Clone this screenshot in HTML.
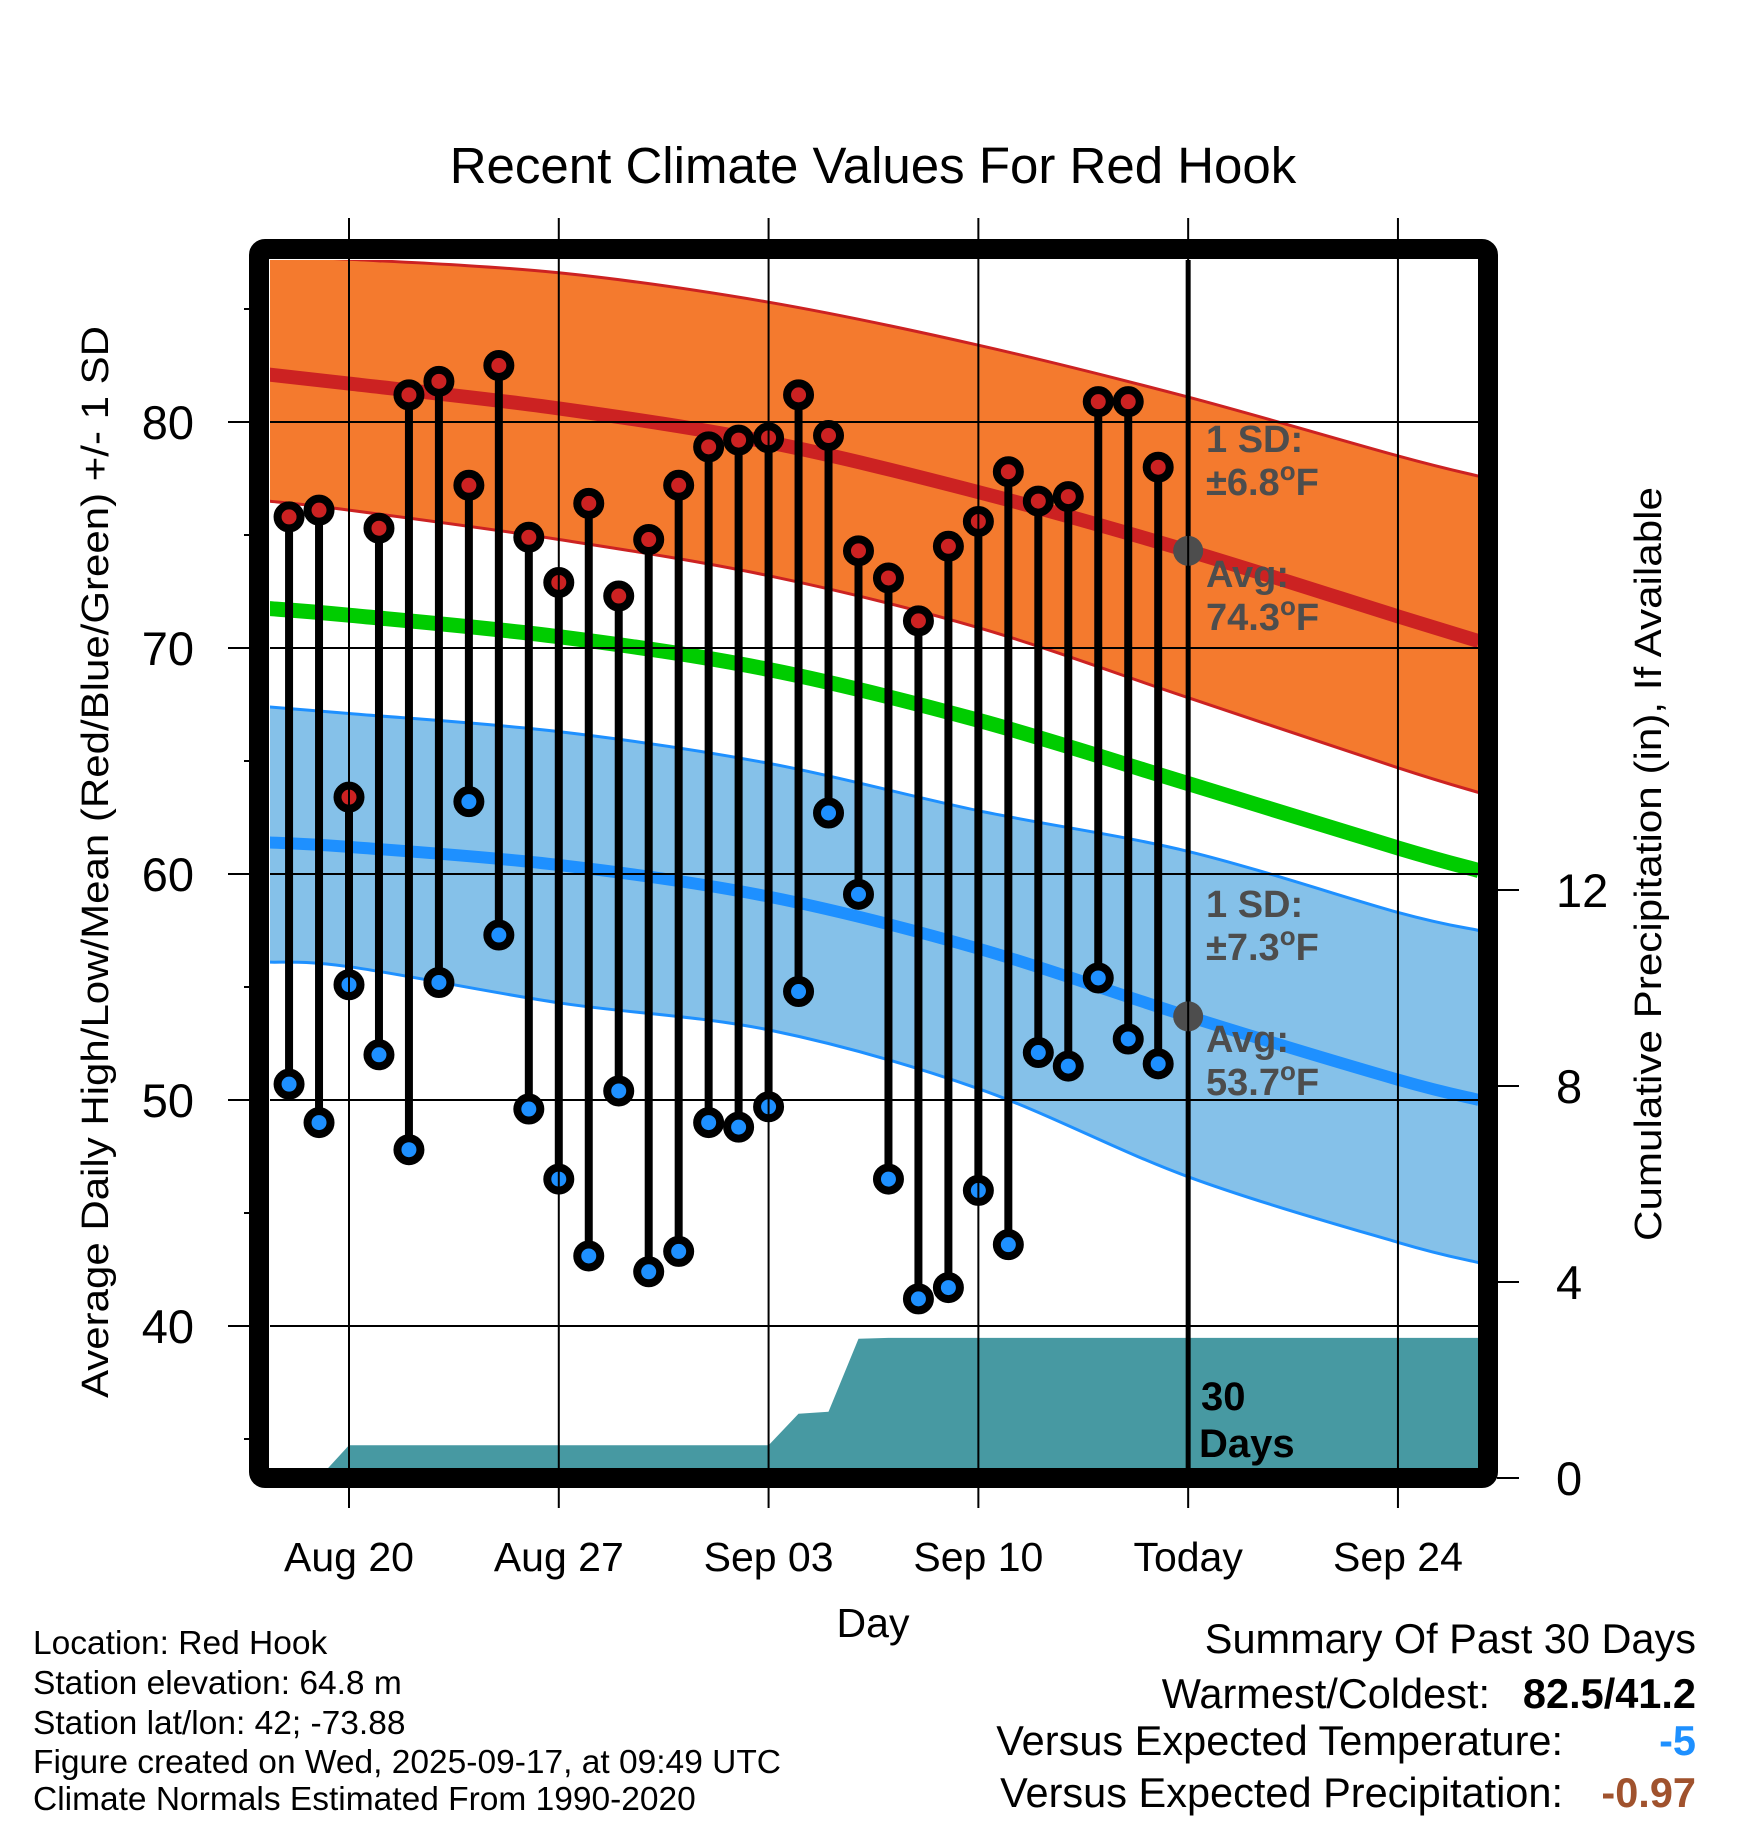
<!DOCTYPE html>
<html><head><meta charset="utf-8"><style>
html,body{margin:0;padding:0;background:#fff}
svg{display:block}
text{font-family:"Liberation Sans",Arial,sans-serif}
</style></head><body>
<svg id="chart" xmlns="http://www.w3.org/2000/svg" width="1748" height="1828" viewBox="0 0 1748 1828">
<defs><clipPath id="plotclip"><rect x="270" y="260" width="1208" height="1208"/></clipPath></defs>
<rect width="1748" height="1828" fill="#fff"/>
<text x="873" y="183" font-size="51" text-anchor="middle">Recent Climate Values For Red Hook</text>
<g id="plot" clip-path="url(#plotclip)"></g>
<g id="over"></g>
<rect x="259" y="249" width="1229" height="1229" fill="none" stroke="#000" stroke-width="20" rx="6"/>
<g id="axes"></g>
<text transform="translate(108,862) rotate(-90)" font-size="38" text-anchor="middle" textLength="1072" lengthAdjust="spacingAndGlyphs">Average Daily High/Low/Mean (Red/Blue/Green) +/- 1 SD</text>
<text transform="translate(1661,864) rotate(-90)" font-size="38" text-anchor="middle" textLength="754" lengthAdjust="spacingAndGlyphs">Cumulative Precipitation (in), If Available</text>
<text x="873" y="1637" font-size="41" text-anchor="middle">Day</text>
<g font-size="33.5">
<text x="33" y="1654">Location: Red Hook</text>
<text x="33" y="1694">Station elevation: 64.8 m</text>
<text x="33" y="1734">Station lat/lon: 42; -73.88</text>
<text x="33" y="1773">Figure created on Wed, 2025-09-17, at 09:49 UTC</text>
<text x="33" y="1810">Climate Normals Estimated From 1990-2020</text>
</g>
<g font-size="41.5" text-anchor="end">
<text x="1696" y="1653">Summary Of Past 30 Days</text>
<text x="1490" y="1708">Warmest/Coldest:</text>
<text x="1696" y="1708" font-weight="bold">82.5/41.2</text>
<text x="1563" y="1755">Versus Expected Temperature:</text>
<text x="1696" y="1755" font-weight="bold" fill="#1e90ff">-5</text>
<text x="1563" y="1807">Versus Expected Precipitation:</text>
<text x="1696" y="1807" font-weight="bold" fill="#a0522d">-0.97</text>
</g>
</svg>
<script>
// ---- data ----
const obsDays = [-2,-1,0,1,2,3,4,5,6,7,8,9,10,11,12,13,14,15,16,17,18,19,20,21,22,23,24,25,26,27];
const highs = [75.8,76.1,63.4,75.3,81.2,81.8,77.2,82.5,74.9,72.9,76.4,72.3,74.8,77.2,78.9,79.2,79.3,81.2,79.4,74.3,73.1,71.2,74.5,75.6,77.8,76.5,76.7,80.9,80.9,78.0];
const lows = [50.7,49.0,55.1,52.0,47.8,55.2,63.2,57.3,49.6,46.5,43.1,50.4,42.4,43.3,49.0,48.8,49.7,54.8,62.7,59.1,46.5,41.2,41.7,46.0,43.6,52.1,51.5,55.4,52.7,51.6];
const precipCum = [0,0,0.67,0.67,0.67,0.67,0.67,0.67,0.67,0.67,0.67,0.67,0.67,0.67,0.67,0.67,0.67,1.31,1.35,2.84,2.86,2.86,2.86,2.86,2.86,2.86,2.86,2.86,2.86,2.86];
const normDays = [-2.7,0,7,14,21,28,35,37.7];
const normHigh = [82.1,81.7,80.6,79.1,76.9,74.3,71.4,70.3];
const highUpper = [87.3,87.2,86.6,85.3,83.4,81.1,78.5,77.6];
const highLower = [76.5,76.1,74.8,73.2,70.9,67.8,64.7,63.6];
const normMean = [71.75,71.45,70.5,69.05,66.8,64.0,61.15,60.15];
const normLow = [61.4,61.2,60.4,59.0,56.7,53.7,50.9,50.0];
const lowUpper = [67.4,67.1,66.3,64.9,62.8,61.0,58.3,57.5];
const lowLower = [56.1,55.9,54.3,53.1,50.5,46.6,43.7,42.8];
const xTickDays = [0,7,14,21,28,35];
const xTickLabels = ["Aug 20","Aug 27","Sep 03","Sep 10","Today","Sep 24"];
const yTicks = [40,50,60,70,80];
const yMinorTicks = [35,45,55,65,75,85];
const y2Ticks = [0,4,8,12];
const todayDay = 28;
const todayHigh = 74.3, todayLow = 53.7;

// ---- scales ----
const X = d => 349 + 29.97*d;
const Y = t => 422 + (80-t)*22.6;
const YP = p => 1478 - 49*p;
const NS = "http://www.w3.org/2000/svg";
function mk(tag, attrs, parent){const e=document.createElementNS(NS,tag);for(const k in attrs)e.setAttribute(k,attrs[k]);parent.appendChild(e);return e;}
const plot=document.getElementById('plot'), over=document.getElementById('over'), axes=document.getElementById('axes');
// smooth path through points (Catmull-Rom)
function smooth(arr){
  const p=normDays.map((d,i)=>[X(d),Y(arr[i])]);
  let s='M'+p[0][0].toFixed(1)+','+p[0][1].toFixed(1);
  for(let i=0;i<p.length-1;i++){
    const p0=p[Math.max(0,i-1)],p1=p[i],p2=p[i+1],p3=p[Math.min(p.length-1,i+2)];
    const c1=[p1[0]+(p2[0]-p0[0])/6,p1[1]+(p2[1]-p0[1])/6];
    const c2=[p2[0]-(p3[0]-p1[0])/6,p2[1]-(p3[1]-p1[1])/6];
    s+=' C'+c1.map(v=>v.toFixed(1)).join(',')+' '+c2.map(v=>v.toFixed(1)).join(',')+' '+p2.map(v=>v.toFixed(1)).join(',');
  }
  return s;
}
function band(up,lo){
  const rl=lo.slice().reverse(), rd=normDays.slice().reverse();
  const a=smooth(up);
  const p=rd.map((d,i)=>[X(d),Y(rl[i])]);
  let s=' L'+p[0][0].toFixed(1)+','+p[0][1].toFixed(1);
  for(let i=0;i<p.length-1;i++){
    const p0=p[Math.max(0,i-1)],p1=p[i],p2=p[i+1],p3=p[Math.min(p.length-1,i+2)];
    const c1=[p1[0]+(p2[0]-p0[0])/6,p1[1]+(p2[1]-p0[1])/6];
    const c2=[p2[0]-(p3[0]-p1[0])/6,p2[1]-(p3[1]-p1[1])/6];
    s+=' C'+c1.map(v=>v.toFixed(1)).join(',')+' '+c2.map(v=>v.toFixed(1)).join(',')+' '+p2.map(v=>v.toFixed(1)).join(',');
  }
  return a+s+' Z';
}

let e;
e=mk('path',{d:band(highUpper,highLower),fill:'#f47a2e'},plot);


e=mk('path',{d:band(lowUpper,lowLower),fill:'#85c1e9'},plot);


[[highUpper,'#cc2222',3,'high-upper-edge'],[highLower,'#cc2222',3,'high-lower-edge'],[lowUpper,'#1e90ff',3,'low-upper-edge'],[lowLower,'#1e90ff',3,'low-lower-edge'],
 [normHigh,'#cc2222',14,'normal-high-line'],[normMean,'#00cc00',15,'normal-mean-line'],[normLow,'#1e90ff',12,'normal-low-line']].forEach(s=>{
  const l=mk('path',{d:smooth(s[0]),fill:'none',stroke:s[1],'stroke-width':s[2]},plot);
  
  
});
// grid
yTicks.forEach(t=>{const g=mk('line',{x1:270,x2:1478,y1:Y(t),y2:Y(t),stroke:'#000','stroke-width':2},plot);
  
  });
xTickDays.forEach(d=>{const g=mk('line',{x1:X(d),x2:X(d),y1:218,y2:1508,stroke:'#000','stroke-width':2},axes);
  
  });
// precip
let pp=[X(obsDays[0]).toFixed(1)+','+YP(0)];
obsDays.forEach((d,i)=>pp.push(X(d).toFixed(1)+','+YP(precipCum[i]).toFixed(1)));
pp.push('1480,'+YP(precipCum[precipCum.length-1]).toFixed(1));
pp.push('1480,'+YP(0));
e=mk('polygon',{points:pp.join(' '),fill:'#4799a2'},plot);


// today line
e=mk('line',{x1:X(todayDay),x2:X(todayDay),y1:260,y2:1468,stroke:'#000','stroke-width':5},over);


// stems and markers
obsDays.forEach((d,i)=>{
  const s=mk('line',{x1:X(d),x2:X(d),y1:Y(highs[i]),y2:Y(lows[i]),stroke:'#000','stroke-width':8},over);
  
  
});
obsDays.forEach((d,i)=>{
  const h=mk('circle',{cx:X(d),cy:Y(highs[i]),r:11.5,fill:'#cc2222',stroke:'#000','stroke-width':8},over);
  
  
  const l=mk('circle',{cx:X(d),cy:Y(lows[i]),r:11.5,fill:'#1e90ff',stroke:'#000','stroke-width':8},over);
  
  
});
e=mk('circle',{cx:X(todayDay),cy:Y(todayHigh),r:15,fill:'#4d4d4d'},over);


e=mk('circle',{cx:X(todayDay),cy:Y(todayLow),r:15,fill:'#4d4d4d'},over);


// annotation labels
function ann(txt,y,deg,name){
  const t=mk('text',{x:1206,y:y,'font-size':38,'font-weight':'bold',fill:'#4d4d4d'},over);
  
  
  if(deg){t.appendChild(document.createTextNode(txt));
    const s=mk('tspan',{dy:-15,'font-size':26},t);s.textContent='o';
    const f=mk('tspan',{dy:15},t);f.textContent='F';}
  else t.textContent=txt;
}
ann('1 SD:',452,false,'high-sd-label');ann('\u00b16.8',495,true,'high-sd-value');
ann('Avg:',587,false,'high-avg-label');ann('74.3',630,true,'high-avg-value');
ann('1 SD:',917,false,'low-sd-label');ann('\u00b17.3',960,true,'low-sd-value');
ann('Avg:',1052,false,'low-avg-label');ann('53.7',1095,true,'low-avg-value');
e=mk('text',{x:1201,y:1410,'font-size':40,'font-weight':'bold'},over);e.textContent='30';


e=mk('text',{x:1199,y:1457,'font-size':40,'font-weight':'bold'},over);e.textContent='Days';


// axes ticks
yTicks.forEach(t=>{
  const l=mk('line',{x1:228,x2:250,y1:Y(t),y2:Y(t),stroke:'#000','stroke-width':2},axes);
  
  
  const tx=mk('text',{x:194,y:Y(t)+17,'font-size':47,'text-anchor':'end'},axes);tx.textContent=t;
  
  
});
yMinorTicks.forEach(t=>{const l=mk('line',{x1:244,x2:250,y1:Y(t),y2:Y(t),stroke:'#000','stroke-width':2},axes);
  
  });
y2Ticks.forEach(p=>{
  const l=mk('line',{x1:1497,x2:1519,y1:YP(p),y2:YP(p),stroke:'#000','stroke-width':2},axes);
  
  
  const tx=mk('text',{x:1556,y:YP(p)+17,'font-size':47},axes);tx.textContent=p;
  
  
});
xTickDays.forEach((d,i)=>{
  const tx=mk('text',{x:X(d),y:1571,'font-size':41,'text-anchor':'middle'},axes);tx.textContent=xTickLabels[i];
  
  
});
</script>
</body></html>
